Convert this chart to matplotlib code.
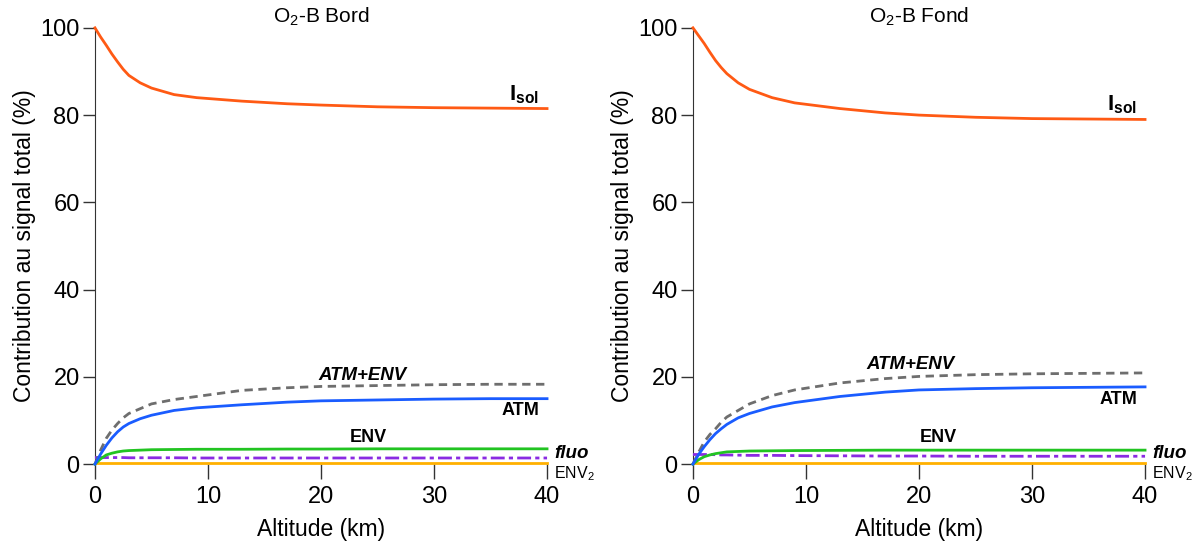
import numpy as np
import matplotlib
matplotlib.use("Agg")
import matplotlib.pyplot as plt

plt.rcParams['font.family'] = ['Liberation Sans', 'DejaVu Sans']
plt.rcParams['mathtext.fontset'] = 'custom'
plt.rcParams['mathtext.rm'] = 'Liberation Sans'
plt.rcParams['mathtext.bf'] = 'Liberation Sans:bold'

# altitude sample points (km)
alt = [0, 0.5, 1, 1.5, 2, 2.5, 3, 4, 5, 7, 9, 13, 17, 20, 25, 30, 35, 40]

# O2-B Bord
bord_isol = [100, 97.9, 96.0, 94.0, 92.2, 90.5, 89.1, 87.4, 86.2, 84.7, 84.0, 83.2, 82.6, 82.3, 81.9, 81.7, 81.6, 81.5]
bord_atm = [0, 2.3, 4.3, 6.0, 7.4, 8.5, 9.3, 10.4, 11.2, 12.3, 12.9, 13.6, 14.2, 14.5, 14.7, 14.9, 15.0, 15.0]
bord_atm_env = [0, 3.2, 5.9, 7.8, 9.3, 10.6, 11.6, 12.7, 13.8, 14.8, 15.5, 16.9, 17.5, 17.8, 18.0, 18.2, 18.3, 18.3]
bord_env = [0, 1.2, 2.1, 2.5, 2.8, 3.0, 3.1, 3.2, 3.3, 3.35, 3.4, 3.4, 3.45, 3.45, 3.5, 3.5, 3.5, 3.5]
bord_fluo = [1.5, 1.5, 1.5, 1.5, 1.5, 1.5, 1.45, 1.45, 1.45, 1.45, 1.4, 1.4, 1.4, 1.4, 1.4, 1.4, 1.4, 1.4]
bord_env2 = [0.2] * len(alt)

# O2-B Fond
fond_isol = [100, 98.2, 96.4, 94.4, 92.5, 90.9, 89.5, 87.4, 85.9, 84.0, 82.8, 81.5, 80.5, 80.0, 79.5, 79.2, 79.1, 79.0]
fond_atm = [0, 2.2, 4.0, 5.6, 7.0, 8.1, 9.1, 10.6, 11.6, 13.1, 14.1, 15.5, 16.5, 17.0, 17.3, 17.5, 17.6, 17.7]
fond_atm_env = [0, 2.7, 5.1, 6.8, 8.1, 9.6, 10.8, 12.3, 13.8, 15.7, 17.0, 18.6, 19.6, 20.1, 20.5, 20.7, 20.8, 20.9]
fond_env = [0, 1.0, 1.7, 2.1, 2.4, 2.6, 2.8, 2.9, 3.0, 3.05, 3.1, 3.15, 3.2, 3.2, 3.2, 3.2, 3.2, 3.2]
fond_fluo = [2.2, 2.2, 2.2, 2.2, 2.15, 2.1, 2.1, 2.05, 2.0, 2.0, 1.95, 1.9, 1.85, 1.85, 1.8, 1.8, 1.8, 1.8]
fond_env2 = [0.2] * len(alt)

panels = [
    ("O$_2$-B Bord", bord_isol, bord_atm, bord_atm_env, bord_env, bord_fluo, bord_env2,
     {"isol": (39.3, 84.6), "atmenv": (23.7, 20.3), "atm": (39.3, 12.2), "env": (24.2, 6.2)}),
    ("O$_2$-B Fond", fond_isol, fond_atm, fond_atm_env, fond_env, fond_fluo, fond_env2,
     {"isol": (39.3, 82.3), "atmenv": (19.2, 22.9), "atm": (39.3, 14.9), "env": (21.7, 6.2)}),
]

fig = plt.figure(figsize=(11.96, 5.46), dpi=100)
lefts = [0.0794, 0.5794]

for left, (title, isol, atm, atm_env, env, fluo, env2, pos) in zip(lefts, panels):
    ax = fig.add_axes([left, 0.150, 0.378, 0.799])
    ax.plot(alt, env2, color='#ffb000', lw=2, clip_on=False, zorder=3)
    ax.plot(alt, fluo, color='#8a2be2', lw=2, ls=(0, (5, 1.5, 1.5, 1.5)), clip_on=False, zorder=4)
    ax.plot(alt, env, color='#22c422', lw=2, clip_on=False, zorder=4)
    ax.plot(alt, atm_env, color='#6e6e6e', lw=2, ls=(0, (3, 2)), clip_on=False, zorder=4)
    ax.plot(alt, atm, color='#1a5cff', lw=2, clip_on=False, zorder=5)
    ax.plot(alt, isol, color='#ff5a14', lw=2, clip_on=False, zorder=5)

    ax.set_xlim(0, 40)
    ax.set_ylim(0, 100)
    ax.set_xticks([0, 10, 20, 30, 40])
    ax.set_yticks([0, 20, 40, 60, 80, 100])
    ax.spines['top'].set_visible(False)
    ax.spines['right'].set_visible(False)
    ax.spines['bottom'].set_visible(False)
    ax.spines['left'].set_color('#333333')
    ax.tick_params(axis='x', direction='out', length=11, width=1, labelsize=17, pad=5, color='#333333')
    ax.tick_params(axis='y', direction='out', length=9, width=1, labelsize=17, pad=2, color='#333333')
    ax.set_xlabel("Altitude (km)", fontsize=16.5, labelpad=7)
    ax.set_ylabel("Contribution au signal total (%)", fontsize=16.5, labelpad=3)
    ax.set_title(title, fontsize=15, pad=0.5)

    ax.text(*pos["isol"], "I$_{\\mathbf{sol}}$", fontsize=16, fontweight='bold', ha='right', va='center')
    ax.text(*pos["atmenv"], "ATM+ENV", fontsize=13.4, fontweight='bold', style='italic', ha='center', va='center')
    ax.text(*pos["atm"], "ATM", fontsize=13, fontweight='bold', ha='right', va='center')
    ax.text(*pos["env"], "ENV", fontsize=13, fontweight='bold', ha='center', va='center')
    ax.text(40.6, 2.4, "fluo", fontsize=13.5, fontweight='bold', style='italic', ha='left', va='center', clip_on=False)
    ax.text(40.6, -2.3, "ENV$_2$", fontsize=11.5, ha='left', va='center', clip_on=False)

fig.savefig("out.png", dpi=100)
